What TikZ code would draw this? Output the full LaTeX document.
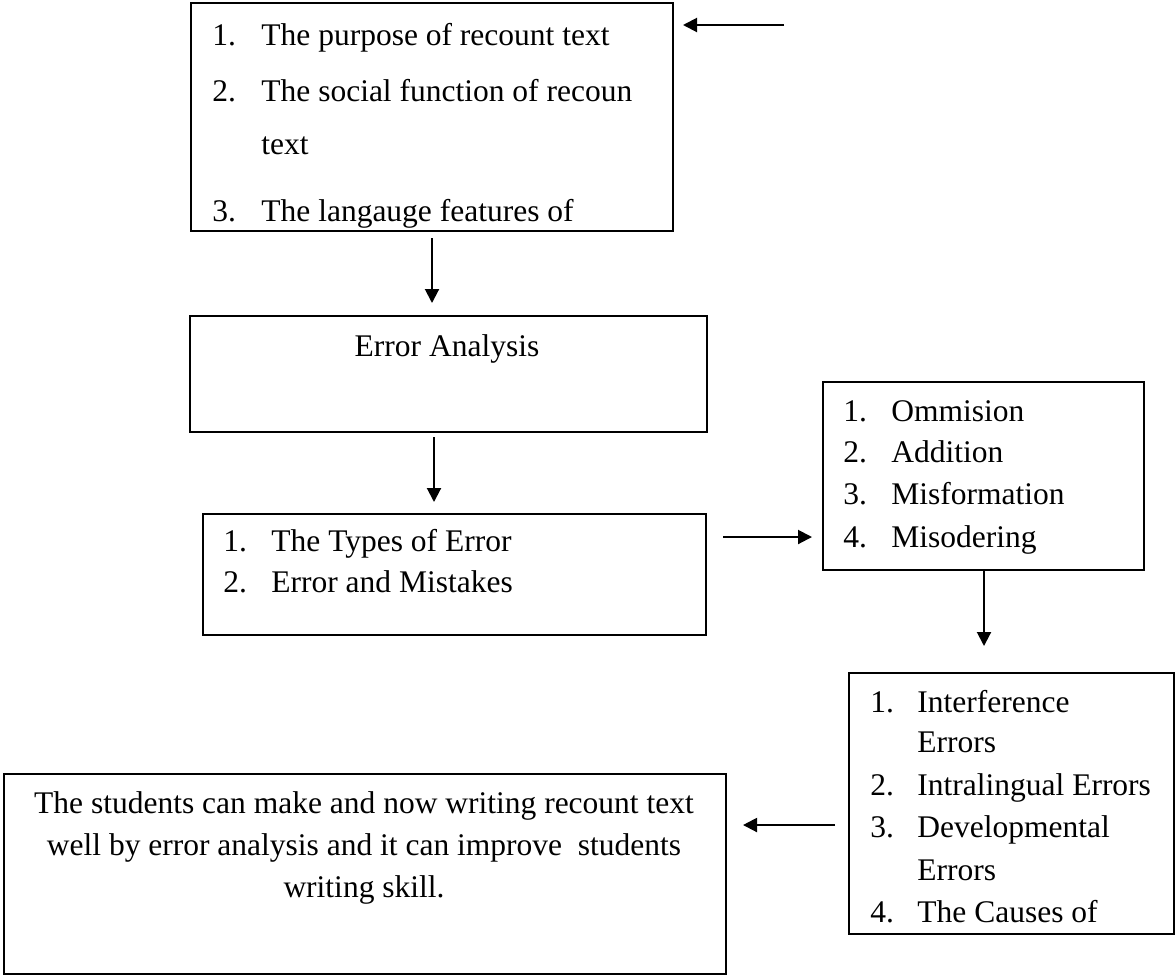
\documentclass[tikz,border=0pt]{standalone}
\usepackage{fontspec}
\setmainfont{Liberation Serif}
\usetikzlibrary{arrows.meta}
\begin{document}
\begin{tikzpicture}[x=0.5pt,y=-0.5pt,
  boxx/.style={draw,line width=1pt,inner sep=0pt,anchor=north west},
  txt/.style={inner sep=0pt,anchor=base west,font=\fontsize{15.75}{18}\selectfont},
  ctxt/.style={inner sep=0pt,anchor=base,font=\fontsize{15.75}{18}\selectfont},
  arr/.style={line width=1pt,-{Triangle[length=7pt,width=7pt]}}]
\useasboundingbox (0,0) rectangle (1176,976);

% boxes
\node[boxx,minimum width=241pt,minimum height=114pt] (b1) at (190,2) {};
\node[boxx,minimum width=258.5pt,minimum height=58pt] (b2) at (189,315) {};
\node[boxx,minimum width=251.5pt,minimum height=60.5pt] (b3) at (202,513) {};
\node[boxx,minimum width=160.5pt,minimum height=94pt] (b4) at (822,381) {};
\node[boxx,minimum width=162.5pt,minimum height=130.5pt] (b5) at (848,672) {};
\node[boxx,minimum width=361pt,minimum height=100pt] (b6) at (3,773) {};

% box 1 text (clipped at the bottom edge)
\begin{scope}
\clip (190,2) rectangle (672,228);
\node[txt] (n1a) at (212,45) {1.};
\node[txt] (t1a) at (261,45) {The purpose of recount text};
\node[txt] (n1b) at (212,101) {2.};
\node[txt] (t1b) at (261,101) {The social function of recoun};
\node[txt] (t1c) at (261,154) {text};
\node[txt] (n1d) at (212,221) {3.};
\node[txt] (t1d) at (261,221) {The langauge features of};
\end{scope}

% box 2 text
\node[ctxt] (t2) at (447,356) {Error Analysis};

% box 3 text
\node[txt] (n3a) at (223,551) {1.};
\node[txt] (t3a) at (271,551) {The Types of Error};
\node[txt] (n3b) at (223,592) {2.};
\node[txt] (t3b) at (271,592) {Error and Mistakes};

% box 4 text
\node[txt] (n4a) at (843,421) {1.};
\node[txt] (t4a) at (891,421) {Ommision};
\node[txt] (n4b) at (843,462) {2.};
\node[txt] (t4b) at (891,462) {Addition};
\node[txt] (n4c) at (843,504) {3.};
\node[txt] (t4c) at (891,504) {Misformation};
\node[txt] (n4d) at (843,547) {4.};
\node[txt] (t4d) at (891,547) {Misodering};

% box 5 text
\node[txt] (n5a) at (870,712) {1.};
\node[txt] (t5a) at (917,712) {Interference};
\node[txt] (t5b) at (917,752) {Errors};
\node[txt] (n5c) at (870,795) {2.};
\node[txt] (t5c) at (917,795) {Intralingual Errors};
\node[txt] (n5d) at (870,837) {3.};
\node[txt] (t5d) at (917,837) {Developmental};
\node[txt] (t5e) at (917,880) {Errors};
\node[txt] (n5f) at (870,922) {4.};
\node[txt] (t5f) at (917,922) {The Causes of};

% box 6 text
\node[ctxt] (t6a) at (364,813) {The students can make and now writing recount text};
\node[ctxt] (t6b) at (364,855) {well by error analysis and it can improve~ students};
\node[ctxt] (t6c) at (364,897) {writing skill.};

% connector end points
\coordinate (a0s) at (784,25);
\coordinate (a0e) at (683,25);
\coordinate (a1s) at (432,238);
\coordinate (a1e) at (432,303);
\coordinate (a2s) at (434,437);
\coordinate (a2e) at (434,502);
\coordinate (a3s) at (723,537);
\coordinate (a3e) at (812,537);
\coordinate (a4s) at (984,569);
\coordinate (a4e) at (984,646);
\coordinate (a5s) at (835,825);
\coordinate (a5e) at (743,825);

\draw[arr] (a0s) -- (a0e);
\draw[arr] (a1s) -- (a1e);
\draw[arr] (a2s) -- (a2e);
\draw[arr] (a3s) -- (a3e);
\draw[arr] (a4s) -- (a4e);
\draw[arr] (a5s) -- (a5e);
\end{tikzpicture}
\end{document}
